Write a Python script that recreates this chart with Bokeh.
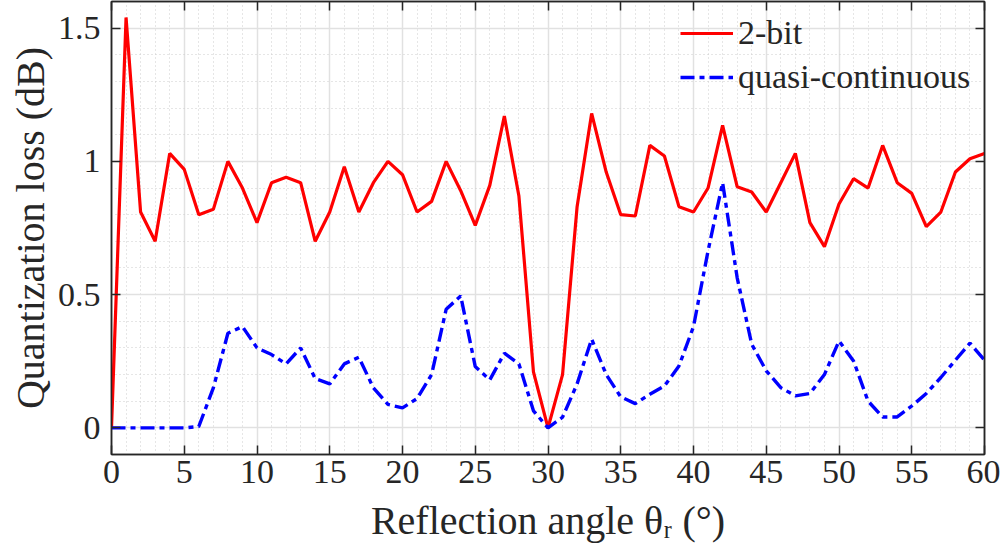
from bokeh.plotting import figure
from bokeh.models import (Range1d, LinearAxis, SingleIntervalTicker, CustomJSTickFormatter,
                          Legend, LegendItem, Grid)
from bokeh.embed import file_html
from bokeh.resources import INLINE

# Reflection angle (degrees) and quantization loss (dB)
angle = list(range(61))
two_bit = [0.0, 1.54, 0.81, 0.70, 1.03, 0.97, 0.80, 0.82, 1.00, 0.90,
           0.77, 0.92, 0.94, 0.92, 0.70, 0.81, 0.98, 0.81, 0.92, 1.00,
           0.95, 0.81, 0.85, 1.00, 0.89, 0.76, 0.91, 1.17, 0.87, 0.21,
           0.0, 0.20, 0.83, 1.18, 0.96, 0.80, 0.795, 1.06, 1.02, 0.83,
           0.81, 0.90, 1.135, 0.905, 0.885, 0.81, 0.92, 1.03, 0.77, 0.68,
           0.84, 0.935, 0.90, 1.06, 0.92, 0.88, 0.755, 0.81, 0.96, 1.01,
           1.03]
quasi_continuous = [0.0, 0.0, 0.0, 0.0, 0.0, 0.0, 0.005, 0.15, 0.355, 0.38,
                    0.30, 0.275, 0.24, 0.30, 0.185, 0.165, 0.24, 0.265, 0.15, 0.088,
                    0.075, 0.11, 0.20, 0.445, 0.495, 0.23, 0.18, 0.28, 0.24, 0.064,
                    0.0, 0.04, 0.165, 0.333, 0.20, 0.116, 0.091, 0.126, 0.157, 0.232,
                    0.38, 0.664, 0.92, 0.564, 0.314, 0.214, 0.151, 0.12, 0.129, 0.20,
                    0.326, 0.251, 0.10, 0.041, 0.041, 0.082, 0.129, 0.189, 0.254, 0.318,
                    0.254]
series_names = ["2-bit", "quasi-continuous"]
x_label = "Reflection angle θᵣ (°)"
y_label = "Quantization loss (dB)"

FONT = "Liberation Serif"
AXIS_COLOR = "#262626"

p = figure(width=1000, height=553, output_backend="svg", toolbar_location=None,
           x_range=Range1d(0, 60), y_range=Range1d(-0.1, 1.6),
           min_border_left=111, min_border_right=16, min_border_top=1,
           min_border_bottom=99, x_axis_type=None, y_axis_type=None)
p.background_fill_color = "white"
p.border_fill_color = "white"
p.outline_line_color = AXIS_COLOR
p.outline_line_width = 1.5

x_ticker = SingleIntervalTicker(interval=5, num_minor_ticks=5)
y_ticker = SingleIntervalTicker(interval=0.5, num_minor_ticks=5)
y_fmt = CustomJSTickFormatter(code="return String(Math.round(tick * 10) / 10);")
blank_fmt = CustomJSTickFormatter(code="return '';")


def make_axis(ticker, formatter=None):
    ax = LinearAxis(ticker=ticker)
    if formatter is not None:
        ax.formatter = formatter
    ax.axis_line_color = AXIS_COLOR
    ax.axis_line_width = 1.5
    ax.major_tick_line_color = AXIS_COLOR
    ax.major_tick_line_width = 1.5
    ax.major_tick_in = 9
    ax.major_tick_out = 0
    ax.minor_tick_in = 0
    ax.minor_tick_out = 0
    ax.major_label_text_font = FONT
    ax.major_label_text_color = AXIS_COLOR
    ax.major_label_text_font_size = "34px"
    ax.axis_label_text_font = FONT
    ax.axis_label_text_font_style = "normal"
    ax.axis_label_text_color = AXIS_COLOR
    ax.axis_label_text_font_size = "40px"
    return ax


xb = make_axis(x_ticker)
xb.axis_label = x_label
xb.major_label_standoff = 6
xb.axis_label_standoff = 12
p.add_layout(xb, "below")

yl = make_axis(y_ticker, formatter=y_fmt)
yl.axis_label = y_label
yl.major_label_standoff = 11
yl.axis_label_standoff = 2
p.add_layout(yl, "left")

# Box axes on the top and right edges: ticks only
xt = make_axis(x_ticker, formatter=blank_fmt)
xt.major_label_standoff = 0
p.add_layout(xt, "above")
yr = make_axis(y_ticker, formatter=blank_fmt)
yr.major_label_standoff = 0
p.add_layout(yr, "right")

# Grid: solid major lines, dotted minor lines
for dim, tk in ((0, x_ticker), (1, y_ticker)):
    g = Grid(dimension=dim, ticker=tk)
    g.grid_line_color = "#e1e1e1"
    g.grid_line_width = 1.5
    g.minor_grid_line_color = "#cdcdcd"
    g.minor_grid_line_width = 1
    g.minor_grid_line_dash = "1 3"
    g.level = "underlay"
    p.add_layout(g)

r_red = p.line(angle, two_bit, line_color="#ff0000", line_width=3.2)
r_blue = p.line(angle, quasi_continuous, line_color="#0000ff", line_width=3.4,
                line_dash="14 5 5 5")

legend = Legend(items=[LegendItem(label=series_names[0], renderers=[r_red]),
                       LegendItem(label=series_names[1], renderers=[r_blue])],
                location=(569, 358), orientation="vertical",
                glyph_width=53, glyph_height=34, label_height=34, spacing=6,
                label_standoff=5, padding=0, margin=0,
                border_line_color=None, background_fill_alpha=0,
                label_text_font=FONT, label_text_font_size="34px",
                label_text_color=AXIS_COLOR)
p.add_layout(legend, "center")

open("out.html", "w").write(file_html(p, INLINE))
